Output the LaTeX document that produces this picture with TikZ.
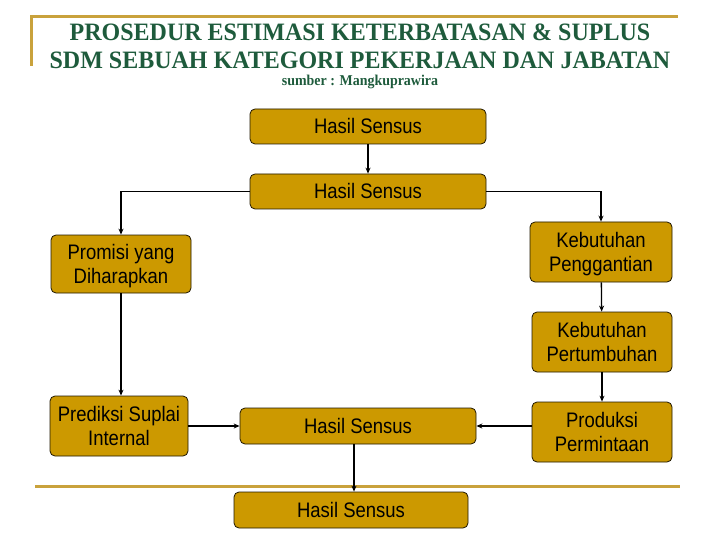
\documentclass[tikz,border=0pt]{standalone}
\usepackage{graphicx}
\usepackage{fontspec}
\setmainfont{Liberation Sans}
\newfontfamily\titlefont{Liberation Serif}
\usetikzlibrary{arrows.meta}
\definecolor{boxgold}{HTML}{CC9900}
\definecolor{framegold}{HTML}{C9A23C}
\definecolor{titlegreen}{HTML}{1E5B3C}
\newcommand\boxtext[1]{\raisebox{-2.5pt}[\height][\depth]{\scalebox{0.88}[1]{\begin{tabular}{@{}c@{}}#1\end{tabular}}}}
\newcommand\titletext[1]{\scalebox{0.96}[1]{#1}}
\begin{document}
\begin{tikzpicture}[x=1pt,y=-1pt,
  box/.style={draw=black!85!boxgold, fill=boxgold, rounded corners=5pt, line width=0.8pt,
    align=center, font=\fontsize{21}{24}\selectfont, inner sep=0pt},
  conn/.style={line width=1.3pt, -{Stealth[length=6pt,width=5pt]}},
  frame/.style={draw=framegold, line width=3pt},
  title/.style={text=titlegreen, align=center, inner sep=0pt}]
\useasboundingbox (0,0) rectangle (720,540);
% frame lines
\draw[frame] (31,66) -- (31,17) -- (678,17);
\draw[frame] (35,486) -- (680,486);
% titles
\node[title, font=\titlefont\bfseries\fontsize{25}{28}\selectfont] (t1) at (360,32) {\titletext{PROSEDUR ESTIMASI KETERBATASAN \& SUPLUS}};
\node[title, font=\titlefont\bfseries\fontsize{25}{28}\selectfont] (t2) at (360,60) {\titletext{SDM SEBUAH KATEGORI PEKERJAAN DAN JABATAN}};
\node[title, font=\titlefont\bfseries\fontsize{15}{17}\selectfont] (src) at (360,82) {\scalebox{0.93}[1]{sumber : Mangkuprawira}};
% boxes
\node[box, minimum width=236pt, minimum height=35pt] (a) at (368,126.5) {\boxtext{Hasil Sensus}};
\node[box, minimum width=236pt, minimum height=35pt] (b) at (368,191.5) {\boxtext{Hasil Sensus}};
\node[box, minimum width=140pt, minimum height=58pt] (promisi) at (121,264) {\boxtext{Promisi yang\\Diharapkan}};
\node[box, minimum width=142pt, minimum height=60pt] (ganti) at (601,252) {\boxtext{Kebutuhan\\Penggantian}};
\node[box, minimum width=140pt, minimum height=60pt] (tumbuh) at (602,342) {\boxtext{Kebutuhan\\Pertumbuhan}};
\node[box, minimum width=138pt, minimum height=60pt] (prediksi) at (119,426) {\boxtext{Prediksi Suplai\\Internal}};
\node[box, minimum width=236pt, minimum height=36pt] (mid) at (358,426) {\boxtext{Hasil Sensus}};
\node[box, minimum width=140pt, minimum height=60pt] (produksi) at (602,432) {\boxtext{Produksi\\Permintaan}};
\node[box, minimum width=234pt, minimum height=36pt] (bot) at (351,510) {\boxtext{Hasil Sensus}};
% connectors
\draw[conn] (a) -- (b);
\draw[conn] (b.west) -| (promisi);
\draw[conn] (b.east) -| (ganti);
\draw[conn] (promisi.south) -- (promisi.south |- prediksi.north);
\draw[conn] (ganti) -- (tumbuh);
\draw[conn] (tumbuh) -- (produksi);
\draw[conn] (prediksi) -- (mid);
\draw[conn] (produksi.west |- mid.east) -- (mid.east);
\draw[conn] ([xshift=-4pt]mid.south) -- ([xshift=-4pt]mid.south |- bot.north);
\end{tikzpicture}
\end{document}
